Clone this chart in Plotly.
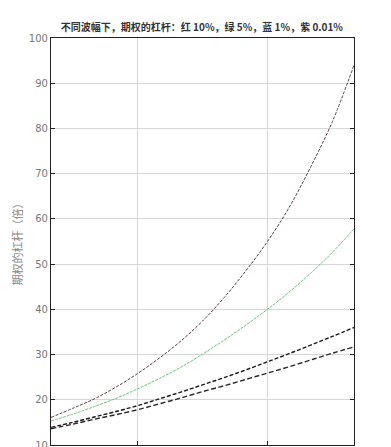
import plotly.graph_objects as go

x_vals = [0, 0.5, 1, 1.5, 2, 2.5, 3, 3.5, 4, 4.5, 5, 5.5, 6, 6.5, 7]
red_10 = [16.1, 18.1, 20.2, 22.8, 25.8, 29.2, 33.0, 37.4, 42.6, 48.5, 55.0, 62.5, 71.5, 81.5, 94.0]
green_5 = [15.3, 16.8, 18.5, 20.3, 22.4, 24.7, 27.2, 30.1, 33.2, 36.5, 40.0, 43.8, 48.0, 52.6, 57.8]
blue_1 = [13.9, 15.0, 16.2, 17.4, 18.7, 20.2, 21.7, 23.3, 24.9, 26.6, 28.4, 30.2, 32.1, 34.0, 36.0]
purple_001 = [13.6, 14.6, 15.7, 16.7, 17.8, 19.1, 20.4, 21.8, 23.1, 24.5, 25.9, 27.3, 28.8, 30.3, 31.7]

y_ticks = [10, 20, 30, 40, 50, 60, 70, 80, 90, 100]
x_ticks = [2, 5]

title_text = "<b>不同波幅下，期权的杠杆：红 10%，绿 5%，蓝 1%，紫 0.01%</b>"
y_title = "期权的杠杆（倍）"

fig = go.Figure()
fig.add_trace(go.Scatter(x=x_vals, y=red_10, mode="lines", line_shape="spline",
                         line=dict(color="#5a3c3c", width=1, dash="3px,1.5px")))
fig.add_trace(go.Scatter(x=x_vals, y=green_5, mode="lines", line_shape="spline",
                         line=dict(color="#66c27a", width=1, dash="3px,1px")))
fig.add_trace(go.Scatter(x=x_vals, y=blue_1, mode="lines", line_shape="spline",
                         line=dict(color="#1a1a1a", width=1.4, dash="4px,2px")))
fig.add_trace(go.Scatter(x=x_vals, y=purple_001, mode="lines", line_shape="spline",
                         line=dict(color="#2a2a2a", width=1.4, dash="5px,2.5px")))

fig.update_layout(
    width=391, height=447,
    margin=dict(l=43, r=45, t=30, b=10, autoexpand=False),
    paper_bgcolor="white", plot_bgcolor="white",
    showlegend=False,
    font=dict(family="Noto Sans CJK SC, DejaVu Sans, sans-serif", color="#555555", size=10),
    title=dict(text=title_text, x=0.496, xanchor="center", y=0.957, yanchor="middle",
               font=dict(size=10, color="#333333", family="Noto Sans CJK SC, sans-serif")),
)
fig.update_xaxes(range=[0, 7], tickvals=x_ticks, showticklabels=False, automargin=False,
                 showgrid=True, gridcolor="#d6d6d6", gridwidth=1,
                 ticks="inside", ticklen=4, tickcolor="#222222",
                 showline=True, linecolor="#222222", linewidth=1.2, mirror=True,
                 zeroline=False)
fig.update_yaxes(range=[10, 100], tickvals=y_ticks, automargin=False,
                 showgrid=True, gridcolor="#d6d6d6", gridwidth=1,
                 ticks="inside", ticklen=4, tickcolor="#222222",
                 showline=True, linecolor="#222222", linewidth=1.2, mirror="allticks",
                 zeroline=False, tickfont=dict(size=10, color="#777777", family="DejaVu Sans"),
                 title=dict(text=y_title, font=dict(size=11, color="#888888"), standoff=3))

fig.write_html("out.html")
